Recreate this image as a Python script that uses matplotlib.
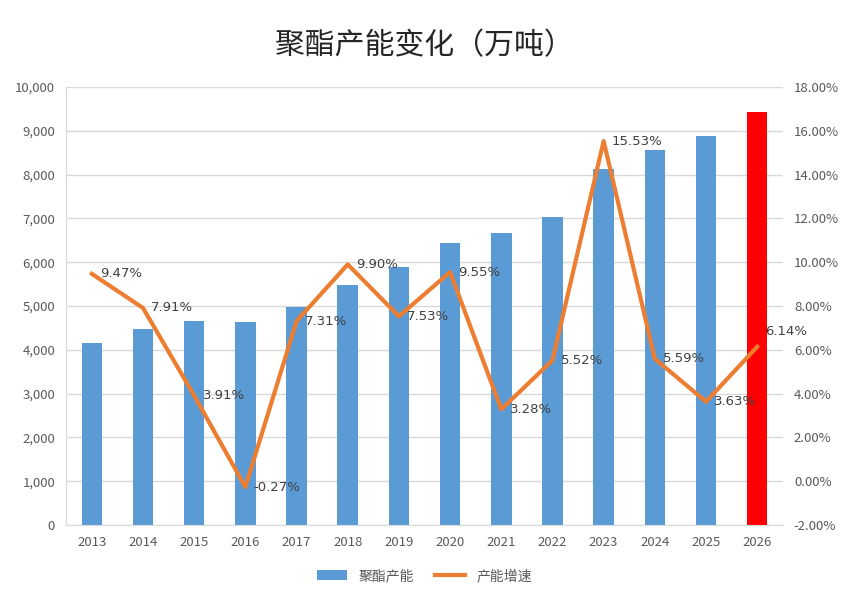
import matplotlib
matplotlib.use('Agg')
import matplotlib.pyplot as plt
from matplotlib.ticker import FuncFormatter

plt.rcParams['font.family'] = ['Noto Sans CJK SC', 'DejaVu Sans']

# data
years = ['2013', '2014', '2015', '2016', '2017', '2018', '2019',
         '2020', '2021', '2022', '2023', '2024', '2025', '2026']
capacity = [4150, 4480, 4655, 4642, 4981, 5474, 5886,
            6448, 6660, 7027, 8118, 8572, 8883, 9429]
growth = [9.47, 7.91, 3.91, -0.27, 7.31, 9.90, 7.53,
          9.55, 3.28, 5.52, 15.53, 5.59, 3.63, 6.14]

blue = '#5B9BD5'
orange = '#ED7D31'
grey = '#595959'
grid_c = '#D9D9D9'

bar_colors = [blue] * (len(years) - 1) + ['#FF0000']

fig = plt.figure(figsize=(8.49, 6.0), dpi=100)
ax = fig.add_axes([0.078, 0.125, 0.844, 0.73])
x = list(range(len(years)))

bars = ax.bar(x, capacity, width=0.4, color=bar_colors, zorder=2, label='聚酯产能')
ax.set_xlim(-0.5, len(years) - 0.5)
ax.set_ylim(0, 10000)
ax.set_yticks(range(0, 10001, 1000))
ax.yaxis.set_major_formatter(FuncFormatter(lambda v, p: f'{int(v):,}'))
ax.grid(axis='y', color=grid_c, linewidth=1, zorder=0)
ax.set_xticks(x)
ax.set_xticklabels(years)
ax.tick_params(axis='both', length=0, colors=grey, labelsize=9.5, pad=8)

for s in ['top', 'right']:
    ax.spines[s].set_visible(False)
for s in ['left', 'bottom']:
    ax.spines[s].set_color(grid_c)

ax2 = ax.twinx()
ax2.set_ylim(-2, 18)
ax2.set_yticks(range(-2, 19, 2))
ax2.yaxis.set_major_formatter(FuncFormatter(lambda v, p: f'{v:.2f}%'))
ax2.tick_params(axis='y', length=0, colors=grey, labelsize=9.5, pad=8)
for s in ax2.spines.values():
    s.set_visible(False)

line, = ax2.plot(x, growth, color=orange, linewidth=3, zorder=3, label='产能增速')
for i, (xi, g) in enumerate(zip(x, growth)):
    dy = 11 if i == len(x) - 1 else 0  # last label sits a bit higher
    ax2.annotate(f'{g:.2f}%', (xi, g), xytext=(6, dy), textcoords='offset points',
                 ha='left', va='center', fontsize=9.5, color='#404040',
                 family='DejaVu Sans')

fig.suptitle('聚酯产能变化（万吨）', y=0.95, fontsize=21.5, color='#262626')

fig.legend([bars, line], ['聚酯产能', '产能增速'], loc='center', ncol=2,
           bbox_to_anchor=(0.5, 0.04), frameon=False, fontsize=10,
           labelcolor=grey, handlelength=2.2, columnspacing=1.5)

fig.savefig('out.png', dpi=100)
